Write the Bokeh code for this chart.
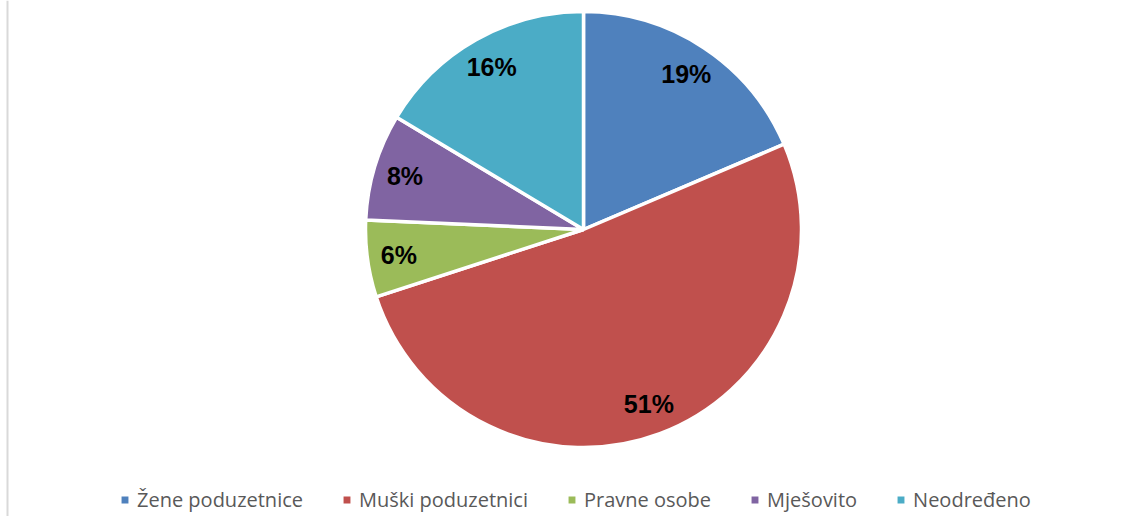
import math
from bokeh.plotting import figure
from bokeh.models import ColumnDataSource, Range1d, Legend, LegendItem, Span
from bokeh.core.properties import value
from bokeh.embed import file_html
from bokeh.resources import INLINE

# ---- data ----
categories = ["Žene poduzetnice", "Muški poduzetnici", "Pravne osobe", "Mješovito", "Neodređeno"]
shares = [18.6, 51.4, 5.7, 7.9, 16.4]
labels = ["19%", "51%", "6%", "8%", "16%"]
colors = ["#4F81BD", "#C0504D", "#9BBB59", "#8064A2", "#4BACC6"]

W, H = 1130, 516
CX, CY, R = 583, 303, 218

total = sum(shares)
starts, ends, lx, ly = [], [], [], []
a = math.pi / 2
for s in shares:
    sweep = 2 * math.pi * s / total
    starts.append(a)
    ends.append(a - sweep)
    mid = a - sweep / 2
    lx.append(CX + 0.855 * R * math.cos(mid))
    ly.append(CY + 0.855 * R * math.sin(mid))
    a -= sweep

src = ColumnDataSource(dict(cat=categories, start=starts, end=ends, color=colors,
                            lx=lx, ly=ly, lab=labels))

p = figure(width=W, height=H, output_backend="svg", toolbar_location=None,
           x_range=Range1d(0, W), y_range=Range1d(532 - H, 532),
           min_border=0, outline_line_color=None)
p.axis.visible = False
p.grid.visible = False
p.background_fill_color = "white"
p.border_fill_color = "white"

w = p.wedge(x=CX, y=CY, radius=R, start_angle="end", end_angle="start",
            direction="anticlock", fill_color="color", line_color="white",
            line_width=3.5, source=src)

p.text(x="lx", y="ly", text="lab", source=src, text_align="center",
       text_baseline="middle", text_font=value("Liberation Sans"),
       text_font_style="bold", text_font_size="25px", text_color="#000000")

items = [LegendItem(label=c, renderers=[w], index=i) for i, c in enumerate(categories)]
legend = Legend(items=items, orientation="horizontal", location=(118, 3),
                glyph_width=13, glyph_height=13, label_standoff=6, spacing=37,
                padding=0, margin=0, label_height=24,
                label_text_font="Open Sans", label_text_font_size="20px",
                label_text_color="#595959", border_line_color=None,
                background_fill_alpha=0)
p.add_layout(legend, "center")

p.add_layout(Span(location=7, dimension="height", line_color="#D9D9D9", line_width=2))

open("out.html", "w").write(file_html(p, INLINE))
